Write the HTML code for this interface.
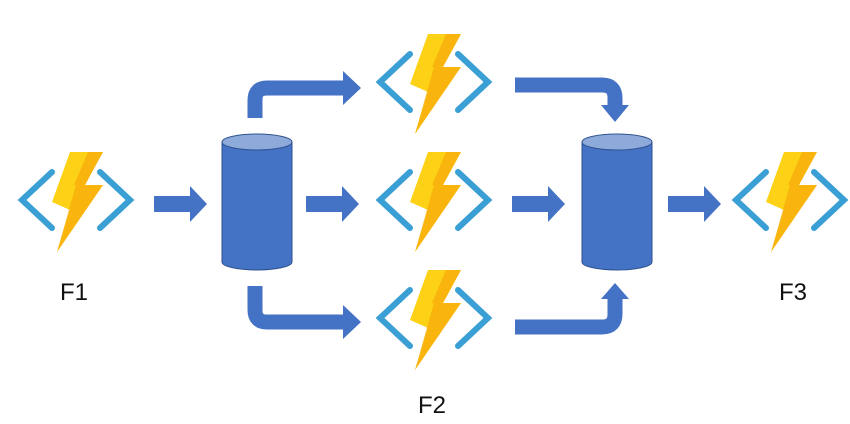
<!DOCTYPE html>
<html><head><style>
html,body{margin:0;padding:0;background:#fff;}
svg{display:block;}
text{font-family:"Liberation Sans",sans-serif;font-size:24px;fill:#111;}
</style></head><body>
<svg width="850" height="424" viewBox="0 0 850 424">
<defs>
<g id="fn">
  <polyline points="-24,-28 -54,0 -24,28" fill="none" stroke="#3a9fd4" stroke-width="6" stroke-linecap="round" stroke-linejoin="miter"/>
  <polyline points="24,-28 54,0 24,28" fill="none" stroke="#3a9fd4" stroke-width="6" stroke-linecap="round" stroke-linejoin="miter"/>
  <polygon points="-6,-48 27,-48 9,-15 27,-15 -19,52 -6,10 -24,2" fill="#fcd116"/>
  <polygon points="12,-48 27,-48 9,-15 27,-15 -19,52 0,-15 -2,-15" fill="#f8b00c" opacity="0.85"/>
</g>
<g id="cyl">
  <path d="M0,8 L0,128 A35,8 0 0 0 70,128 L70,8" fill="#4472c4" stroke="#2f528f" stroke-width="1"/>
  <ellipse cx="35" cy="8" rx="35" ry="8" fill="#8eaadb" stroke="#2f528f" stroke-width="1"/>
</g>
<g id="arr">
  <polygon points="0,-8 36,-8 36,-18 53,0 36,18 36,8 0,8" fill="#4472c4"/>
</g>
</defs>

<use href="#fn" x="76" y="200"/>
<use href="#fn" x="434" y="82"/>
<use href="#fn" x="434" y="200"/>
<use href="#fn" x="434" y="318"/>
<use href="#fn" x="790" y="200"/>

<use href="#cyl" x="222" y="134"/>
<use href="#cyl" x="582" y="134"/>

<use href="#arr" x="154" y="204"/>
<use href="#arr" x="306" y="204"/>
<use href="#arr" x="512" y="204"/>
<use href="#arr" x="668" y="204"/>

<path d="M255,118 L255,100 Q255,88 267,88 L344,88" fill="none" stroke="#4472c4" stroke-width="15"/>
<polygon points="343,71 361,88 343,105" fill="#4472c4"/>
<path d="M255,286 L255,310 Q255,322 267,322 L344,322" fill="none" stroke="#4472c4" stroke-width="15"/>
<polygon points="343,305 361,322 343,339" fill="#4472c4"/>
<path d="M515,85 L602,85 Q615,85 615,98 L615,106" fill="none" stroke="#4472c4" stroke-width="15"/>
<polygon points="601,105 629,105 615,122" fill="#4472c4"/>
<path d="M515,327 L602,327 Q615,327 615,314 L615,298" fill="none" stroke="#4472c4" stroke-width="15"/>
<polygon points="601,299 629,299 615,283" fill="#4472c4"/>

<text x="60" y="300">F1</text>
<text x="418" y="413">F2</text>
<text x="779" y="300">F3</text>
</svg>
</body></html>
